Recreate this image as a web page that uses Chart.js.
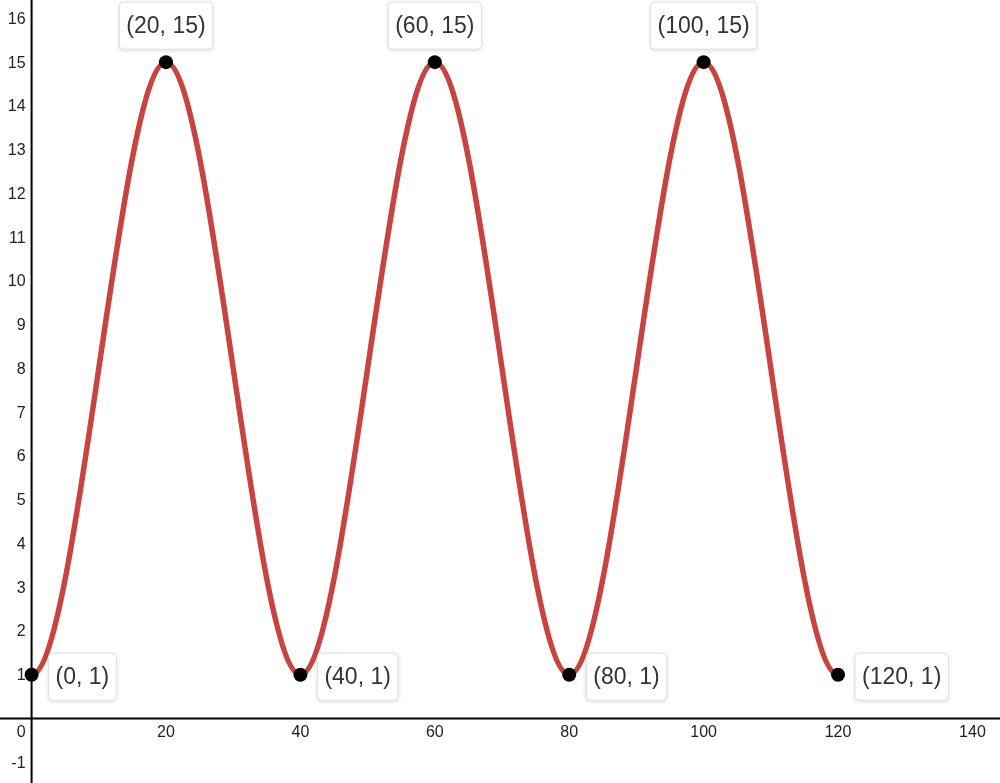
<!DOCTYPE html>
<html>
<head>
<meta charset="utf-8">
<title>Cosine wave</title>
<script src="https://cdn.jsdelivr.net/npm/chart.js@4.4.1/dist/chart.umd.min.js"></script>
<style>
  html, body { margin: 0; padding: 0; background: #fff; }
  #wrap { width: 1000px; height: 783px; position: relative; }
</style>
</head>
<body>
<div id="wrap"><canvas id="graph"></canvas></div>
<script>
// data
const xValues = [0, 20, 40, 60, 80, 100, 120];
const yValues = [1, 15, 1, 15, 1, 15, 1];
const xTicks = [20, 40, 60, 80, 100, 120, 140];
const yTicks = [-1, 1, 2, 3, 4, 5, 6, 7, 8, 9, 10, 11, 12, 13, 14, 15, 16];
const originLabel = '0';

const FONT = '"Liberation Sans", Arial, sans-serif';
const CURVE_RED = '#c74440';

// axes drawn through the origin, like a graphing calculator
const axesPlugin = {
    id: 'axesThroughOrigin',
    beforeDatasetsDraw(chart) {
        const { ctx, scales: { x, y }, width, height } = chart;
        const x0 = x.getPixelForValue(0);
        const y0 = y.getPixelForValue(0);

        ctx.save();
        ctx.strokeStyle = '#000';
        ctx.lineWidth = 2;
        ctx.beginPath();
        ctx.moveTo(0, y0);
        ctx.lineTo(width, y0);
        ctx.moveTo(x0, 0);
        ctx.lineTo(x0, height);
        ctx.stroke();

        ctx.fillStyle = '#222';
        ctx.font = '16px ' + FONT;

        // x tick labels
        ctx.textAlign = 'center';
        ctx.textBaseline = 'middle';
        xTicks.forEach(v => {
            ctx.fillText(String(v), x.getPixelForValue(v), y0 + 14);
        });

        // y tick labels
        ctx.textAlign = 'right';
        yTicks.forEach(v => {
            ctx.fillText(String(v), x0 - 6, y.getPixelForValue(v) + 1);
        });

        // origin label
        ctx.fillText(originLabel, x0 - 6, y0 + 14);
        ctx.restore();
    }
};

// flatten the tangent at both ends so the curve starts/ends like a cosine
const endTangentFix = {
    id: 'endTangentFix',
    beforeDatasetDraw(chart, args) {
        const line = args.meta.dataset;
        const pts = args.meta.data;
        if (!line || !pts.length) return;
        line.updateControlPoints(chart.chartArea, 'x');
        pts[0].cp2y = pts[0].y;
        pts[pts.length - 1].cp1y = pts[pts.length - 1].y;
    }
};

// coordinate labels in white boxes
const pointLabels = {
    id: 'pointLabels',
    afterDatasetsDraw(chart) {
        const { ctx } = chart;
        const pts = chart.getDatasetMeta(0).data;
        const peak = Math.max(...yValues);

        ctx.save();
        ctx.font = '23px ' + FONT;
        ctx.textBaseline = 'middle';
        ctx.textAlign = 'left';

        pts.forEach((pt, i) => {
            const text = '(' + xValues[i] + ', ' + yValues[i] + ')';
            const tw = ctx.measureText(text).width;
            const bw = tw + 14;
            const bh = 47;
            let bx, by;
            if (yValues[i] === peak) {
                bx = pt.x - bw / 2;
                by = pt.y - 13 - bh;
            } else {
                bx = pt.x + 17;
                by = pt.y + 2 - bh / 2;
            }

            ctx.shadowColor = 'rgba(0, 0, 0, 0.18)';
            ctx.shadowBlur = 4;
            ctx.shadowOffsetY = 1;
            ctx.fillStyle = '#fff';
            ctx.beginPath();
            ctx.roundRect(bx, by, bw, bh, 4);
            ctx.fill();
            ctx.shadowColor = 'transparent';
            ctx.strokeStyle = '#e0e0e0';
            ctx.lineWidth = 1;
            ctx.stroke();

            ctx.fillStyle = '#333';
            ctx.fillText(text, bx + 7, by + bh / 2 + 1);
        });
        ctx.restore();
    }
};

const ctx = document.getElementById('graph');

new Chart(ctx, {
    type: 'scatter',
    data: {
        datasets: [{
            data: xValues.map((v, i) => ({ x: v, y: yValues[i] })),
            showLine: true,
            borderColor: CURVE_RED,
            borderWidth: 5.5,
            cubicInterpolationMode: 'monotone',
            pointRadius: 7,
            pointHoverRadius: 7,
            pointBackgroundColor: '#000',
            pointBorderWidth: 0,
            clip: false
        }]
    },
    options: {
        responsive: true,
        maintainAspectRatio: false,
        animation: false,
        events: [],
        layout: { padding: 0, autoPadding: false },
        plugins: {
            legend: { display: false },
            tooltip: { enabled: false }
        },
        scales: {
            x: { type: 'linear', min: -4.7, max: 144.1, display: false },
            y: { type: 'linear', min: -1.474, max: 16.42, display: false }
        }
    },
    plugins: [axesPlugin, endTangentFix, pointLabels]
});
</script>
</body>
</html>
